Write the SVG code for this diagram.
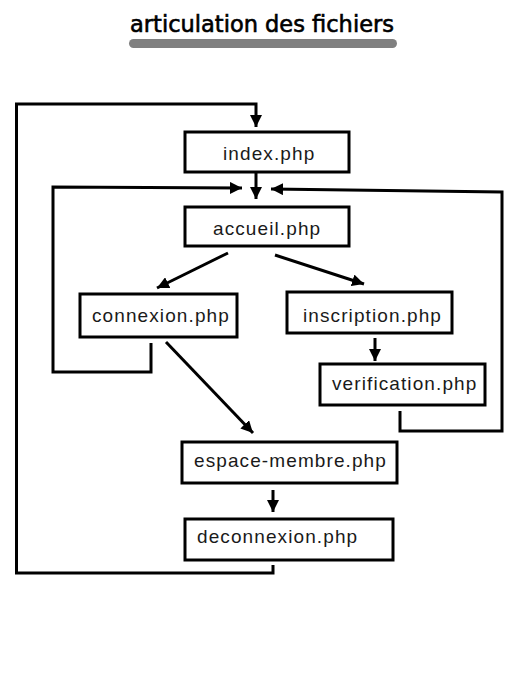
<svg xmlns="http://www.w3.org/2000/svg" width="520" height="697" viewBox="0 0 520 697">
<style>
.box{fill:#fff;stroke:#000;stroke-width:3}
.lbl{font-family:"Liberation Sans",Arial,sans-serif;font-size:19px;letter-spacing:1.1px;fill:#1a1a1a}
.ln{fill:none;stroke:#000;stroke-width:3;stroke-linejoin:miter}
.title{font-family:"DejaVu Sans",sans-serif;font-size:22.5px;fill:#000;stroke:#000;stroke-width:0.6}
</style>
<defs>
<marker id="ah" markerUnits="userSpaceOnUse" markerWidth="14" markerHeight="12" refX="12" refY="6" orient="auto">
<path d="M0,0 L12,6 L0,12 Z" fill="#000"/>
</marker>
</defs>
<rect width="520" height="697" fill="#fff"/>
<text class="title" x="262" y="32" text-anchor="middle">articulation des fichiers</text>
<rect x="129" y="39" width="268" height="9" rx="4.5" fill="#808080"/>
<g id="connectors">
<polyline class="ln" points="273,565 273,573 16.5,573 16.5,104 256,104 256,127" marker-end="url(#ah)"/>
<line class="ln" x1="256" y1="172" x2="256" y2="199" marker-end="url(#ah)"/>
<polyline class="ln" points="151,343 151,372 53,372 53,187 242,188" marker-end="url(#ah)"/>
<polyline class="ln" points="400,411 400,431 502,431 502,192 271,189" marker-end="url(#ah)"/>
<line class="ln" x1="228" y1="253" x2="157" y2="288" marker-end="url(#ah)"/>
<line class="ln" x1="275" y1="255" x2="364" y2="284" marker-end="url(#ah)"/>
<line class="ln" x1="375" y1="338" x2="375" y2="361" marker-end="url(#ah)"/>
<line class="ln" x1="166" y1="342" x2="253" y2="433" marker-end="url(#ah)"/>
<line class="ln" x1="273" y1="490" x2="273" y2="512" marker-end="url(#ah)"/>
</g>
<g id="index"><rect class="box" x="185" y="132" width="164" height="40"/><text class="lbl" x="223" y="160">index.php</text></g>
<g id="accueil"><rect class="box" x="185" y="207" width="164" height="39"/><text class="lbl" x="213" y="235">accueil.php</text></g>
<g id="connexion"><rect class="box" x="80" y="294" width="157" height="43"/><text class="lbl" x="92" y="322">connexion.php</text></g>
<g id="inscription"><rect class="box" x="287" y="292" width="165" height="41"/><text class="lbl" x="303" y="322">inscription.php</text></g>
<g id="verification"><rect class="box" x="320" y="364" width="165" height="41"/><text class="lbl" x="332" y="390">verification.php</text></g>
<g id="espace-membre"><rect class="box" x="182" y="442" width="215" height="41"/><text class="lbl" x="194" y="467">espace-membre.php</text></g>
<g id="deconnexion"><rect class="box" x="185" y="519" width="208" height="41"/><text class="lbl" x="197" y="543">deconnexion.php</text></g>
</svg>
